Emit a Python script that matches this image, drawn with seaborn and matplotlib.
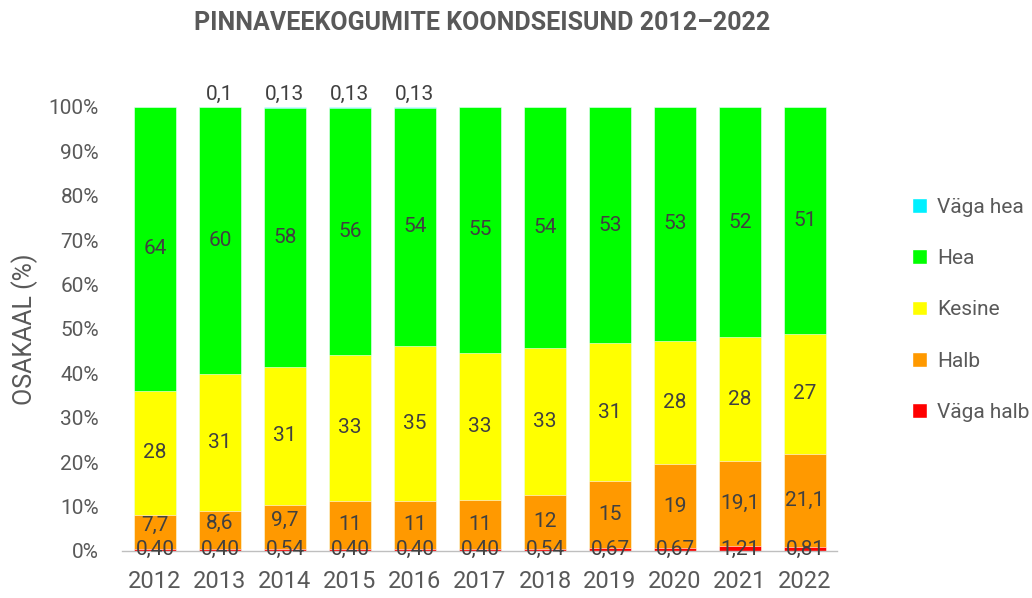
import pandas as pd
import matplotlib.pyplot as plt
import seaborn as sns
from matplotlib.patches import Patch

# andmed
years = ['2012', '2013', '2014', '2015', '2016', '2017', '2018', '2019', '2020', '2021', '2022']
vaga_halb = [0.40, 0.40, 0.54, 0.40, 0.40, 0.40, 0.54, 0.67, 0.67, 1.21, 0.81]
halb = [7.7, 8.6, 9.7, 11, 11, 11, 12, 15, 19, 19.1, 21.1]
kesine = [28, 31, 31, 33, 35, 33, 33, 31, 28, 28, 27]
hea = [64, 60, 58, 56, 54, 55, 54, 53, 53, 52, 51]
vaga_hea = [0, 0.1, 0.13, 0.13, 0.13, 0, 0, 0, 0, 0, 0]

classes = ['Väga halb', 'Halb', 'Kesine', 'Hea', 'Väga hea']
colors = ['#FF0000', '#FF9900', '#FFFF00', '#00FF00', '#00F0FF']

df = pd.DataFrame({'aasta': years, 'Väga halb': vaga_halb, 'Halb': halb,
                   'Kesine': kesine, 'Hea': hea, 'Väga hea': vaga_hea})
total = df[classes].sum(axis=1)
pct = df[classes].div(total, axis=0) * 100
cum = pct.cumsum(axis=1)

sns.set_style('white')
plt.rcParams['font.family'] = ['Roboto', 'DejaVu Sans']
grey = '#595959'
lab_col = '#404040'

fig = plt.figure(figsize=(10.32, 5.98), dpi=100)
ax = fig.add_axes([0.1187, 0.0786, 0.6928, 0.7425])

# kuhjatud tulbad: suurimast kumulatiivsest väikseimani
for cls, col in reversed(list(zip(classes, colors))):
    sns.barplot(x=df['aasta'], y=cum[cls], color=col, saturation=1, width=0.66,
                edgecolor='white', linewidth=0.4, ax=ax)


def fmt(v):
    s = f'{v:g}' if v >= 1 or v == 0.1 else f'{v:.2f}'
    return s.replace('.', ',')


for i in range(len(years)):
    for cls in classes:
        v = df.loc[i, cls]
        if v == 0:
            continue
        top = cum.loc[i, cls]
        h = pct.loc[i, cls]
        if cls == 'Väga hea':
            ax.text(i, 100.8, fmt(v), ha='center', va='bottom', fontsize=15, color=lab_col)
        elif cls == 'Väga halb':
            ax.text(i, 0.4, fmt(v), ha='center', va='center', fontsize=15, color=lab_col)
        elif cls == 'Halb' and h < 10:
            ax.text(i, top - h / 2 + 1.5, fmt(v), ha='center', va='center', fontsize=15, color=lab_col)
        else:
            ax.text(i, top - h / 2, fmt(v), ha='center', va='center', fontsize=15, color=lab_col)

ax.set_xlim(-0.5, 10.5)
ax.set_ylim(0, 100)
ax.set_yticks(range(0, 101, 10))
ax.set_yticklabels([f'{t}%' for t in range(0, 101, 10)])
ax.tick_params(axis='y', labelsize=15, colors=grey, length=0, pad=17)
ax.tick_params(axis='x', labelsize=17, colors=grey, length=0, pad=14)
ax.set_xlabel('')
ax.set_ylabel('OSAKAAL (%)', fontsize=18, color=grey, labelpad=8)
for s in ['top', 'right', 'left']:
    ax.spines[s].set_visible(False)
ax.spines['bottom'].set_color('#BFBFBF')
ax.spines['bottom'].set_linewidth(1)

fig.text(0.467, 0.962, 'PINNAVEEKOGUMITE KOONDSEISUND 2012–2022', fontsize=18,
         fontweight='bold', color=grey, ha='center', va='center')

handles = [Patch(facecolor=c, label=l) for l, c in zip(classes, colors)][::-1]
fig.legend(handles=handles, loc='center left', bbox_to_anchor=(0.866, 0.482), frameon=False,
           fontsize=15, labelcolor=grey, handlelength=0.7, handleheight=0.7,
           handletextpad=0.5, labelspacing=1.55)

plt.savefig('out.png', dpi=100)
plt.close()
